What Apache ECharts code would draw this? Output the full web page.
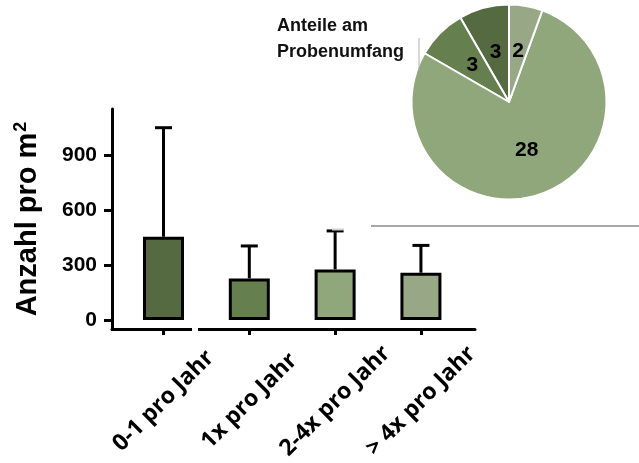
<!DOCTYPE html>
<html>
<head>
<meta charset="utf-8">
<script src="https://cdn.jsdelivr.net/npm/echarts@6/dist/echarts.min.js"></script>
<style>
html,body{margin:0;padding:0;background:#fff;}
#chart{width:639px;height:463px;}
</style>
</head>
<body>
<div id="chart"></div>
<script>
// ---- data ----
const categories = ['0-1 pro Jahr', '1x pro Jahr', '2-4x pro Jahr', '> 4x pro Jahr'];
const meanValues = [454, 227, 276, 258];
const sdValues = [595, 177, 210, 149];
const pieCounts = [3, 3, 28, 2];
const yTickValues = [0, 300, 600, 900];
const pieTitle = 'Anteile am\nProbenumfang';
const yTitle = 'Anzahl pro m';
const ySup = '2';

// ---- style ----
const palette = ['#566a42', '#667f4e', '#8fa77a', '#98a886'];
const catIdx = categories.map((c, i) => i);

const chart = echarts.init(document.getElementById('chart'), null, {renderer: 'canvas'});

const option = {
  animation: false,
  backgroundColor: '#fff',
  title: {
    text: pieTitle,
    left: 277, top: 13, padding: 0,
    textStyle: {fontFamily: 'Liberation Sans', fontSize: 18, fontWeight: 'bold', color: '#111', lineHeight: 26}
  },
  grid: {left: 112, top: 109, width: 363, height: 220, containLabel: false, outerBoundsMode: 'none'},
  xAxis: {
    type: 'value', min: -0.6, max: 3.63,
    splitLine: {show: false},
    axisLine: {show: true, onZero: false, lineStyle: {color: '#000', width: 3}},
    axisTick: {show: true, customValues: catIdx, length: 6, lineStyle: {color: '#000', width: 3}},
    axisLabel: {
      customValues: catIdx,
      formatter: v => categories[Math.round(v)],
      rotate: 45, align: 'center', verticalAlign: 'middle', margin: 72,
      fontFamily: 'Open Sans', fontWeight: 'bold', fontSize: 23, color: '#000'
    }
  },
  yAxis: {
    type: 'value', min: -49, max: 1151,
    splitLine: {show: false},
    axisLine: {show: true, onZero: false, lineStyle: {color: '#000', width: 3}},
    axisTick: {show: true, customValues: yTickValues, length: 8, lineStyle: {color: '#000', width: 3}},
    axisLabel: {
      customValues: yTickValues, margin: 15,
      fontFamily: 'Liberation Sans', fontWeight: 'bold', fontSize: 21, color: '#000'
    },
    name: '{a|' + yTitle + '}{b|' + ySup + '}',
    nameLocation: 'middle', nameRotate: 90, nameGap: 68,
    nameTextStyle: {
      rich: {
        a: {fontFamily: 'Liberation Sans', fontWeight: 'bold', fontSize: 29, color: '#000'},
        b: {fontFamily: 'Liberation Sans', fontWeight: 'bold', fontSize: 18, color: '#000', padding: [0, 0, 14, 1]}
      }
    }
  },
  series: [
    {
      type: 'bar',
      barWidth: 41,
      z: 2,
      data: meanValues.map((v, i) => ({value: [i, v], itemStyle: {color: palette[i]}})),
      itemStyle: {borderColor: '#000', borderWidth: 3},
      emphasis: {disabled: true}
    },
    {
      type: 'custom',
      z: 3,
      data: meanValues.map((v, i) => [i, v, v + sdValues[i]]),
      renderItem: function (params, api) {
        const base = api.coord([api.value(0), api.value(1)]);
        const top = api.coord([api.value(0), api.value(2)]);
        const half = 8.5;
        const st = {stroke: '#000', lineWidth: 3};
        return {
          type: 'group',
          children: [
            {type: 'line', shape: {x1: base[0], y1: base[1], x2: top[0], y2: top[1]}, style: st},
            {type: 'line', shape: {x1: top[0] - half, y1: top[1], x2: top[0] + half, y2: top[1]}, style: st}
          ]
        };
      }
    },
    {
      type: 'pie',
      center: [509, 102],
      radius: 97.5,
      startAngle: 90,
      clockwise: false,
      avoidLabelOverlap: false,
      emphasis: {disabled: true},
      itemStyle: {borderColor: '#fff', borderWidth: 2},
      label: {
        show: true, position: 'inside', formatter: '{c}',
        fontFamily: 'Liberation Sans', fontWeight: 'bold', fontSize: 21, color: '#000'
      },
      labelLine: {show: false},
      data: categories.map((c, i) => ({name: c, value: pieCounts[i], itemStyle: {color: palette[i]}}))
    }
  ],
  graphic: [
    {type: 'rect', shape: {x: 192, y: 325, width: 6, height: 8}, style: {fill: '#fff'}, z: 100},
    {type: 'line', shape: {x1: 371, y1: 226, x2: 639, y2: 226}, style: {stroke: '#8a8a8a', lineWidth: 1.5}, z: 100},
    {type: 'line', shape: {x1: 419, y1: 38, x2: 419, y2: 70}, style: {stroke: '#b0b0b0', lineWidth: 1}, z: 100},
    {type: 'line', shape: {x1: 332, y1: 229.5, x2: 344, y2: 229.5}, style: {stroke: '#d0d0d0', lineWidth: 2}, z: 100}
  ]
};
chart.setOption(option);
</script>
</body>
</html>
